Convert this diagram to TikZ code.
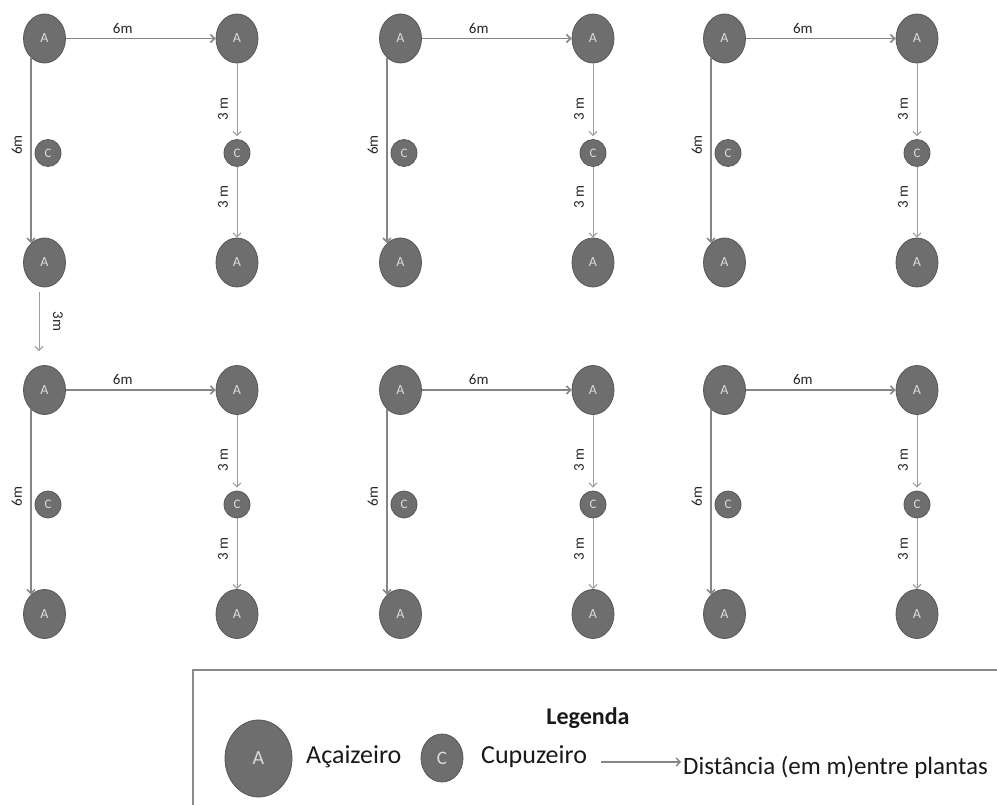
\documentclass[tikz,border=0pt]{standalone}
\usepackage{fontspec}
\setmainfont{Carlito}
\usetikzlibrary{shapes.geometric,arrows.meta,calc}
\definecolor{plantfill}{HTML}{6E6E6E}
\definecolor{plantedge}{HTML}{575757}
\definecolor{plantlbl}{HTML}{DCDCDC}
\definecolor{linegray}{HTML}{858585}
\definecolor{thingray}{HTML}{9C9C9C}
\definecolor{boxgray}{HTML}{8A8A8A}
\tikzset{
  acai/.style={ellipse, draw=plantedge, line width=0.8pt, fill=plantfill,
    minimum width=42pt, minimum height=49pt, inner sep=0pt, text=plantlbl,
    font=\fontsize{14}{14}\selectfont},
  cupu/.style={ellipse, draw=plantedge, line width=0.8pt, fill=plantfill,
    minimum width=26pt, minimum height=27pt, inner sep=0pt, text=plantlbl,
    font=\fontsize{13}{13}\selectfont},
  tip/.style={-{Straight Barb[length=4pt,width=8pt]}},
  thickarr/.style={draw=linegray, line width=1.6pt, tip},
  thinarr/.style={draw=thingray, line width=1pt, tip},
  dimlbl/.style={font=\fontsize{15}{15}\selectfont, text=black!85, inner sep=1pt},
  legtxt/.style={font=\fontsize{26}{26}\selectfont, text=black!90, inner sep=0pt},
}
\newcommand\plantblock[3]{%
  \begin{scope}[shift={(#2,#3)}]
    \node[acai] (#1tl) at (44.5,38.5) {A};
    \node[acai] (#1tr) at (237,38.5) {A};
    \node[cupu] (#1cl) at (48,153) {C};
    \node[cupu] (#1cr) at (237,153) {C};
    \node[acai] (#1bl) at (44.5,262.5) {A};
    \node[acai] (#1br) at (237,262.5) {A};
    \draw[thickarr] (#1tl.east) -- node[dimlbl, pos=0.38, anchor=south, outer sep=4pt] {6m} (#1tr.west);
    \draw[thickarr] (#1tl.235) -- node[dimlbl, pos=0.47, rotate=90, anchor=south, outer sep=8pt] {6m} (#1bl.125);
    \draw[thinarr, shorten >=3pt] (#1tr.south) -- node[dimlbl, pos=0.6, rotate=90, anchor=south, outer sep=8pt] {3 m} (#1cr.north);
    \draw[thinarr] (#1cr.south) -- node[dimlbl, pos=0.43, rotate=90, anchor=south, outer sep=8pt] {3 m} (#1br.north);
  \end{scope}}
\begin{document}
\begin{tikzpicture}[x=1pt,y=-1pt]
  \useasboundingbox (0,0) rectangle (997,805);
  \clip (0,0) rectangle (997,805);
  \plantblock{pa}{0}{0}
  \plantblock{pb}{356}{0}
  \plantblock{pc}{680}{0}
  \plantblock{qa}{0}{351.5}
  \plantblock{qb}{356}{351.5}
  \plantblock{qc}{680}{351.5}
  \draw[thinarr] ($(pabl.south)+(-5.5,4.5)$) -- node[dimlbl, midway, rotate=-90, anchor=south, outer sep=13pt] {3m} ($(qatl.north)+(-5.5,-14)$);
  % legend
  \draw[boxgray, line width=1.4pt] (193,670) rectangle (1020,830);
  \node[legtxt, font=\fontsize{24}{24}\selectfont\bfseries] (legtitle) at (588,718) {Legenda};
  \node[acai, minimum width=67pt, minimum height=77pt, font=\fontsize{20}{20}\selectfont] (legA) at (258.5,758.5) {A};
  \node[legtxt, anchor=west] (legAt) at (306,757) {Açaizeiro};
  \node[cupu, minimum width=42pt, minimum height=48pt, font=\fontsize{19}{19}\selectfont] (legC) at (442,758) {C};
  \node[legtxt, anchor=west] (legCt) at (481,757) {Cupuzeiro};
  \node[legtxt, anchor=west, font=\fontsize{25}{25}\selectfont] (legD) at (683,767) {Distância (em m)entre plantas};
  \draw[thickarr, line width=1.4pt] ($(legCt.east)+(14,5)$) -- ($(legD.west)+(-2,-5)$);
\end{tikzpicture}
\end{document}
